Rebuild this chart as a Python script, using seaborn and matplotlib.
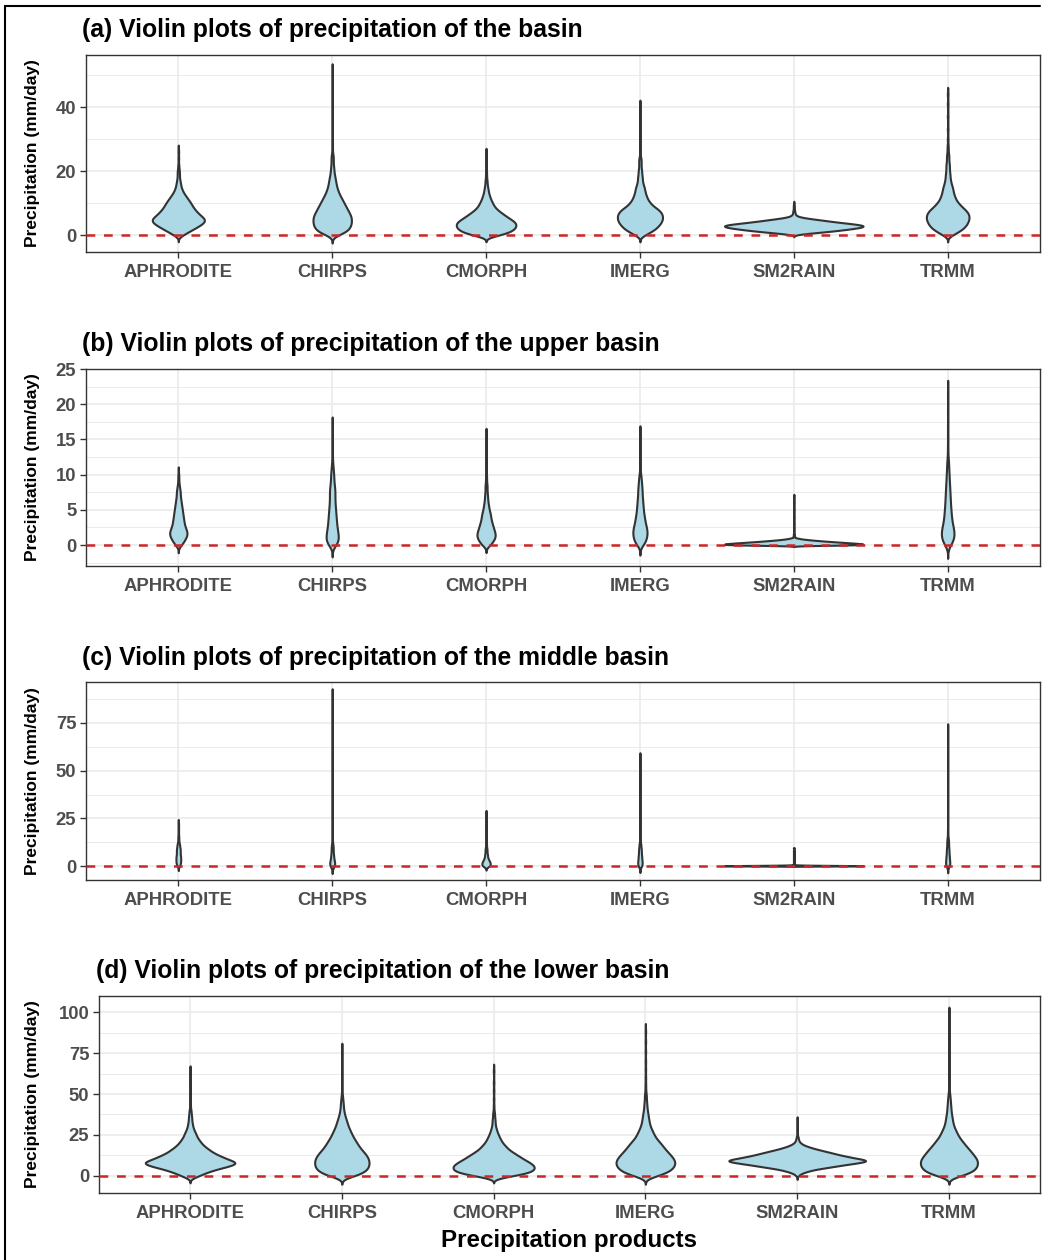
import numpy as np
import pandas as pd
import seaborn as sns
import matplotlib
matplotlib.use("Agg")
import matplotlib.pyplot as plt
from matplotlib.lines import Line2D
from matplotlib.ticker import MultipleLocator

# ---------------- data (value bins and day counts) ----------------
products = ["APHRODITE", "CHIRPS", "CMORPH", "IMERG", "SM2RAIN", "TRMM"]
panel_titles = ["(a) Violin plots of precipitation of the basin",
                "(b) Violin plots of precipitation of the upper basin",
                "(c) Violin plots of precipitation of the middle basin",
                "(d) Violin plots of precipitation of the lower basin"]
y_label = "Precipitation (mm/day)"
x_label = "Precipitation products"

# (a) whole basin
a_aphrodite_v = [0, 1, 2, 3, 4, 5, 6, 7, 8, 9, 10, 11, 12, 13, 14, 15, 16, 17, 18, 19, 20, 21, 22, 24, 26]
a_aphrodite_n = [8, 18, 28, 38, 46, 47, 40, 34, 29, 25, 22, 18, 14, 10, 7, 5, 4, 3, 2, 2, 2, 1, 1, 1, 1]
a_chirps_v = [0, 1, 2, 3, 4, 5, 6, 7, 8, 9, 10, 11, 12, 13, 14, 15, 16, 17, 18, 19, 20, 21, 22, 23, 24, 25,
              27, 29, 32, 36, 40, 45, 51]
a_chirps_n = [10, 25, 30, 33, 34, 34, 33, 30, 27, 24, 21, 18, 15, 12, 10, 8, 7, 6, 5, 4, 3, 3, 2, 2, 2, 2,
              1, 1, 1, 1, 1, 1, 1]
a_cmorph_v = [0, 1, 2, 3, 4, 5, 6, 7, 8, 9, 10, 11, 12, 13, 14, 15, 16, 17, 18, 19, 20, 22, 25]
a_cmorph_n = [25, 45, 53, 56, 54, 45, 36, 28, 20, 15, 12, 9, 7, 5, 4, 3, 2, 2, 1, 1, 1, 1, 1]
a_imerg_v = [0, 1, 2, 3, 4, 5, 6, 7, 8, 9, 10, 11, 12, 13, 14, 15, 16, 17, 18, 19, 20, 21, 22, 23, 24,
             26, 28, 30, 33, 36, 40]
a_imerg_n = [8, 18, 26, 31, 35, 37, 37, 35, 30, 22, 17, 13, 11, 9, 8, 7, 5, 4, 4, 3, 3, 2, 2, 2, 2,
             1, 1, 1, 1, 1, 1]
a_sm2rain_v = [0.5, 1.0, 1.5, 2.0, 2.5, 3.0, 3.5, 4.0, 4.5, 5.0, 5.5, 6.0, 6.5, 7.0, 7.5, 8.0, 8.5, 9.0, 9.5]
a_sm2rain_n = [25, 62, 90, 115, 135, 138, 115, 85, 62, 38, 15, 5, 3, 2, 2, 1, 1, 1, 1]
a_trmm_v = [0, 1, 2, 3, 4, 5, 6, 7, 8, 9, 10, 11, 12, 13, 14, 15, 16, 17, 18, 19, 20, 21, 22, 23, 24, 25,
            26, 27, 28, 30, 33, 37, 41, 44]
a_trmm_n = [8, 18, 26, 31, 34, 36, 36, 34, 29, 23, 18, 14, 12, 10, 9, 8, 6, 5, 4, 4, 3, 3, 3, 2, 2, 2,
            1, 1, 1, 1, 1, 1, 1, 1]

# (b) upper basin
b_aphrodite_v = [0, 0.5, 1, 1.5, 2, 2.5, 3, 3.5, 4, 4.5, 5, 5.5, 6, 6.5, 7, 7.5, 8, 8.5, 9, 9.5, 10]
b_aphrodite_n = [6, 11, 15, 18, 17, 14, 12, 11, 10, 9, 8, 7, 6, 5, 4, 4, 3, 2, 1, 1, 1]
b_chirps_v = [0, 0.5, 1, 1.5, 2, 2.5, 3, 3.5, 4, 4.5, 5, 5.5, 6, 6.5, 7, 7.5, 8, 8.5, 9, 9.5, 10, 10.5, 11, 11.5,
              12, 13, 14, 15, 16.5]
b_chirps_n = [8, 11, 12, 11, 10, 9, 8, 8, 7, 7, 6, 6, 5, 5, 5, 5, 5, 4, 3, 3, 3, 2, 2, 1,
              1, 1, 1, 1, 1]
b_cmorph_v = [0, 0.5, 1, 1.5, 2, 2.5, 3, 3.5, 4, 4.5, 5, 5.5, 6, 6.5, 7, 7.5, 8, 8.5, 9, 9.5,
              10, 11, 12.5, 15.5]
b_cmorph_n = [8, 13, 17, 18, 16, 14, 12, 10, 9, 8, 6, 5, 4, 3, 3, 2, 2, 2, 1, 1,
              1, 1, 1, 1]
b_imerg_v = [0, 0.5, 1, 1.5, 2, 2.5, 3, 3.5, 4, 4.5, 5, 5.5, 6, 6.5, 7, 7.5, 8, 8.5, 9, 9.5, 10,
             11, 12, 13, 14.5, 15.5]
b_imerg_n = [6, 10, 12, 13, 13, 12, 10, 9, 8, 7, 6, 6, 5, 5, 4, 4, 4, 3, 3, 2, 2,
             1, 1, 1, 1, 1]
b_sm2rain_v = [0, 0.1, 0.2, 0.3, 0.4, 0.5, 0.6, 0.7, 0.8, 0.9, 1.0, 1.2, 1.5, 2, 2.5, 3, 4, 5, 6, 7]
b_sm2rain_n = [120, 140, 130, 110, 90, 70, 52, 36, 22, 12, 6, 3, 2, 1, 1, 1, 1, 1, 1, 1]
b_trmm_v = [0, 0.5, 1, 1.5, 2, 2.5, 3, 3.5, 4, 4.5, 5, 5.5, 6, 6.5, 7, 7.5, 8, 8.5, 9, 9.5, 10, 10.5, 11, 11.5, 12,
            13, 14, 15.5, 17, 19, 21.5]
b_trmm_n = [6, 10, 12, 13, 12, 11, 9, 8, 7, 7, 6, 6, 5, 5, 5, 4, 4, 4, 3, 3, 3, 2, 2, 2, 2,
            1, 1, 1, 1, 1, 1]

# (c) middle basin
c_aphrodite_v = [0, 1, 2, 3, 4, 5, 6, 7, 8, 9, 10, 11, 12, 13, 14, 15, 16, 18, 20, 22]
c_aphrodite_n = [3, 4, 5, 5, 5, 5, 4, 4, 4, 4, 3, 3, 2, 1, 1, 1, 1, 1, 1, 1]
c_chirps_v = [0, 1, 2, 3, 4, 5, 6, 7, 8, 9, 10, 11,
              12, 14, 16, 18, 21, 25, 30, 36, 43, 50, 58, 66, 75, 84, 89]
c_chirps_n = [6, 6, 5, 4, 3, 3, 3, 2, 2, 2, 2, 2,
              1, 1, 1, 1, 1, 1, 1, 1, 1, 1, 1, 1, 1, 1, 1]
c_cmorph_v = [0, 1, 2, 3, 4, 5, 6, 7, 8, 9, 10, 11, 12, 14, 16, 18, 21, 24, 27]
c_cmorph_n = [8, 9, 8, 6, 4, 3, 3, 2, 2, 2, 1, 1, 1, 1, 1, 1, 1, 1, 1]
c_imerg_v = [0, 1, 2, 3, 4, 5, 6, 7, 8, 9, 10, 11, 12,
             14, 16, 18, 20, 23, 26, 29, 32, 36, 41, 46, 51, 56]
c_imerg_n = [5, 5, 5, 4, 4, 4, 3, 3, 3, 3, 2, 2, 2,
             1, 1, 1, 1, 1, 1, 1, 1, 1, 1, 1, 1, 1]
c_sm2rain_v = [0, 0.1, 0.2, 0.3, 0.4, 0.5, 0.6, 1, 2, 3, 4, 5, 6, 7, 8, 9.5]
c_sm2rain_n = [60, 90, 80, 50, 25, 10, 4, 1, 1, 1, 1, 1, 1, 1, 1, 1]
c_trmm_v = [0, 1, 2, 3, 4, 5, 6, 7, 8, 9, 10, 11, 12, 13, 14,
            15, 17, 19, 22, 26, 31, 37, 44, 52, 60, 67, 71]
c_trmm_n = [5, 5, 5, 4, 4, 4, 3, 3, 3, 3, 2, 2, 2, 2, 2,
            1, 1, 1, 1, 1, 1, 1, 1, 1, 1, 1, 1]

# (d) lower basin
d_aphrodite_v = [0, 2, 4, 6, 8, 10, 12, 14, 16, 18, 20, 22, 24, 26, 28, 30, 32, 34, 36, 38, 40,
                 43, 46, 50, 54, 58, 63]
d_aphrodite_n = [15, 28, 45, 70, 87, 68, 55, 42, 34, 26, 20, 16, 12, 10, 7, 5, 4, 3, 3, 2, 2,
                 1, 1, 1, 1, 1, 1]
d_chirps_v = [0, 2, 4, 6, 8, 10, 12, 14, 16, 18, 20, 22, 24, 26, 28, 30, 32, 34, 36, 38, 40, 42, 44, 46, 48,
              51, 55, 60, 65, 70, 76]
d_chirps_n = [25, 42, 50, 53, 54, 53, 50, 45, 39, 34, 30, 26, 22, 19, 16, 13, 11, 9, 7, 5, 4, 3, 3, 2, 2,
              1, 1, 1, 1, 1, 1]
d_cmorph_v = [0, 2, 4, 6, 8, 10, 12, 14, 16, 18, 20, 22, 24, 26, 28, 30, 32, 34, 36, 38,
              40, 43, 47, 52, 57, 64]
d_cmorph_n = [35, 70, 80, 80, 72, 60, 50, 40, 30, 24, 18, 14, 11, 8, 6, 4, 3, 3, 2, 2,
              1, 1, 1, 1, 1, 1]
d_imerg_v = [0, 2, 4, 6, 8, 10, 12, 14, 16, 18, 20, 22, 24, 26, 28, 30, 32, 34, 36, 38, 40, 42, 44, 46, 48, 50,
             53, 56, 60, 65, 70, 76, 82, 88]
d_imerg_n = [22, 42, 52, 57, 59, 57, 52, 46, 40, 35, 30, 24, 19, 16, 13, 10, 8, 7, 6, 5, 4, 3, 3, 2, 2, 2,
             1, 1, 1, 1, 1, 1, 1, 1]
d_sm2rain_v = [0, 1, 2, 3, 4, 5, 6, 7, 8, 9, 10, 11, 12, 13, 14, 15, 16, 17, 18, 19, 20, 21, 22, 23, 24,
               26, 28, 30, 32, 34]
d_sm2rain_n = [2, 5, 12, 22, 35, 55, 75, 95, 118, 136, 130, 110, 95, 80, 68, 55, 42, 30, 20, 12, 7, 4, 3, 2, 2,
               1, 1, 1, 1, 1]
d_trmm_v = [0, 2, 4, 6, 8, 10, 12, 14, 16, 18, 20, 22, 24, 26, 28, 30, 32, 34, 36, 38, 40, 42, 44, 46, 48, 50,
            53, 57, 61, 66, 71, 77, 83, 89, 95, 98]
d_trmm_n = [22, 42, 51, 55, 56, 55, 50, 45, 40, 34, 29, 24, 19, 16, 13, 10, 8, 7, 6, 5, 4, 4, 3, 3, 2, 2,
            1, 1, 1, 1, 1, 1, 1, 1, 1, 1]

panels = [
    [(a_aphrodite_v, a_aphrodite_n), (a_chirps_v, a_chirps_n), (a_cmorph_v, a_cmorph_n),
     (a_imerg_v, a_imerg_n), (a_sm2rain_v, a_sm2rain_n), (a_trmm_v, a_trmm_n)],
    [(b_aphrodite_v, b_aphrodite_n), (b_chirps_v, b_chirps_n), (b_cmorph_v, b_cmorph_n),
     (b_imerg_v, b_imerg_n), (b_sm2rain_v, b_sm2rain_n), (b_trmm_v, b_trmm_n)],
    [(c_aphrodite_v, c_aphrodite_n), (c_chirps_v, c_chirps_n), (c_cmorph_v, c_cmorph_n),
     (c_imerg_v, c_imerg_n), (c_sm2rain_v, c_sm2rain_n), (c_trmm_v, c_trmm_n)],
    [(d_aphrodite_v, d_aphrodite_n), (d_chirps_v, d_chirps_n), (d_cmorph_v, d_cmorph_n),
     (d_imerg_v, d_imerg_n), (d_sm2rain_v, d_sm2rain_n), (d_trmm_v, d_trmm_n)],
]

# axis settings per panel
y_limits = [(-5.31, 56.25), (-2.98, 25.0), (-7.34, 96.5), (-10.4, 109.8)]
y_major = [20, 5, 25, 25]
y_minor = [10, 2.5, 12.5, 12.5]

# ---------------- styling ----------------
sns.set_style("white")
plt.rcParams["font.family"] = ["Liberation Sans", "DejaVu Sans"]
plt.rcParams["font.weight"] = "bold"

W, H = 1046, 1260
fig = plt.figure(figsize=(W / 100, H / 100), dpi=100)

# axes boxes in pixels: left, top, right, bottom
boxes = [(86, 55, 1040, 252), (86, 369, 1040, 566), (86, 682, 1040, 880), (99, 996, 1040, 1193)]
title_pos = [(82, 30), (82, 344), (82, 658), (96, 971)]

FILL = "#ADD8E6"
EDGE = "#333333"
GRID = "#EBEBEB"


def bw_rule(kde):
    x = np.asarray(kde.dataset).ravel()
    sd = x.std(ddof=1)
    q25, q75 = np.percentile(x, [25, 75])
    spread = min(sd, (q75 - q25) / 1.34) if q75 > q25 else sd
    step = np.diff(np.unique(x)).min()
    bw = max(0.16 * spread, 0.7 * step)
    return bw / sd


for i, panel in enumerate(panels):
    rows_p, rows_v = [], []
    for prod, (vals, cnts) in zip(products, panel):
        rep = np.repeat(np.asarray(vals, dtype=float), cnts)
        rows_p.extend([prod] * len(rep))
        rows_v.extend(rep.tolist())
    df = pd.DataFrame({"product": rows_p, "precip": rows_v})

    l, t, r, b = boxes[i]
    ax = fig.add_axes([l / W, 1 - b / H, (r - l) / W, (b - t) / H])
    sns.violinplot(data=df, x="product", y="precip", order=products, color=FILL, saturation=1,
                   linecolor=EDGE, linewidth=1.5, inner=None, width=0.9, cut=3, gridsize=800,
                   bw_method=bw_rule, density_norm="area", ax=ax, zorder=3)
    ax.axhline(0, color="#CD2626", lw=1.8, ls=(0, (3.5, 3.5)), zorder=5)

    ax.set_xlim(-0.6, 5.6)
    ax.set_ylim(*y_limits[i])
    ax.yaxis.set_major_locator(MultipleLocator(y_major[i]))
    ax.yaxis.set_minor_locator(MultipleLocator(y_minor[i]))
    ax.set_axisbelow(True)
    ax.grid(True, which="major", axis="both", color=GRID, lw=1.2, zorder=0)
    ax.grid(True, which="minor", axis="y", color=GRID, lw=0.7, zorder=0)
    for s in ax.spines.values():
        s.set_visible(True)
        s.set_color(EDGE)
        s.set_linewidth(1.0)
    ax.tick_params(axis="x", which="major", length=4, width=1.0, color=EDGE,
                   labelsize=13.3, labelcolor="#4D4D4D", pad=4.5, bottom=True)
    ax.tick_params(axis="y", which="major", length=4, width=1.0, color=EDGE,
                   labelsize=13.3, labelcolor="#4D4D4D", pad=3.0, left=True)
    ax.tick_params(axis="y", which="minor", length=0)
    for lab in ax.get_xticklabels() + ax.get_yticklabels():
        lab.set_fontweight("bold")
    ax.set_xlabel("")
    ax.set_ylabel("")

    tx, ty = title_pos[i]
    fig.text(tx / W, 1 - ty / H, panel_titles[i], fontsize=17.8, fontweight="bold",
             color="black", ha="left", va="center")
    fig.text(33 / W, 1 - ((t + b) / 2) / H, y_label, rotation=90, fontsize=12.5,
             fontweight="bold", color="black", ha="center", va="center")

fig.text(569 / W, 1 - 1240 / H, x_label, fontsize=17.4, fontweight="bold",
         color="black", ha="center", va="center")

# outer frame (left and top edges)
fig.add_artist(Line2D([5 / W, 5 / W], [0, 1 - 6 / H], color="black", lw=1.5))
fig.add_artist(Line2D([5 / W, 1040 / W], [1 - 6 / H, 1 - 6 / H], color="black", lw=1.5))

fig.savefig("out.png", dpi=100)
